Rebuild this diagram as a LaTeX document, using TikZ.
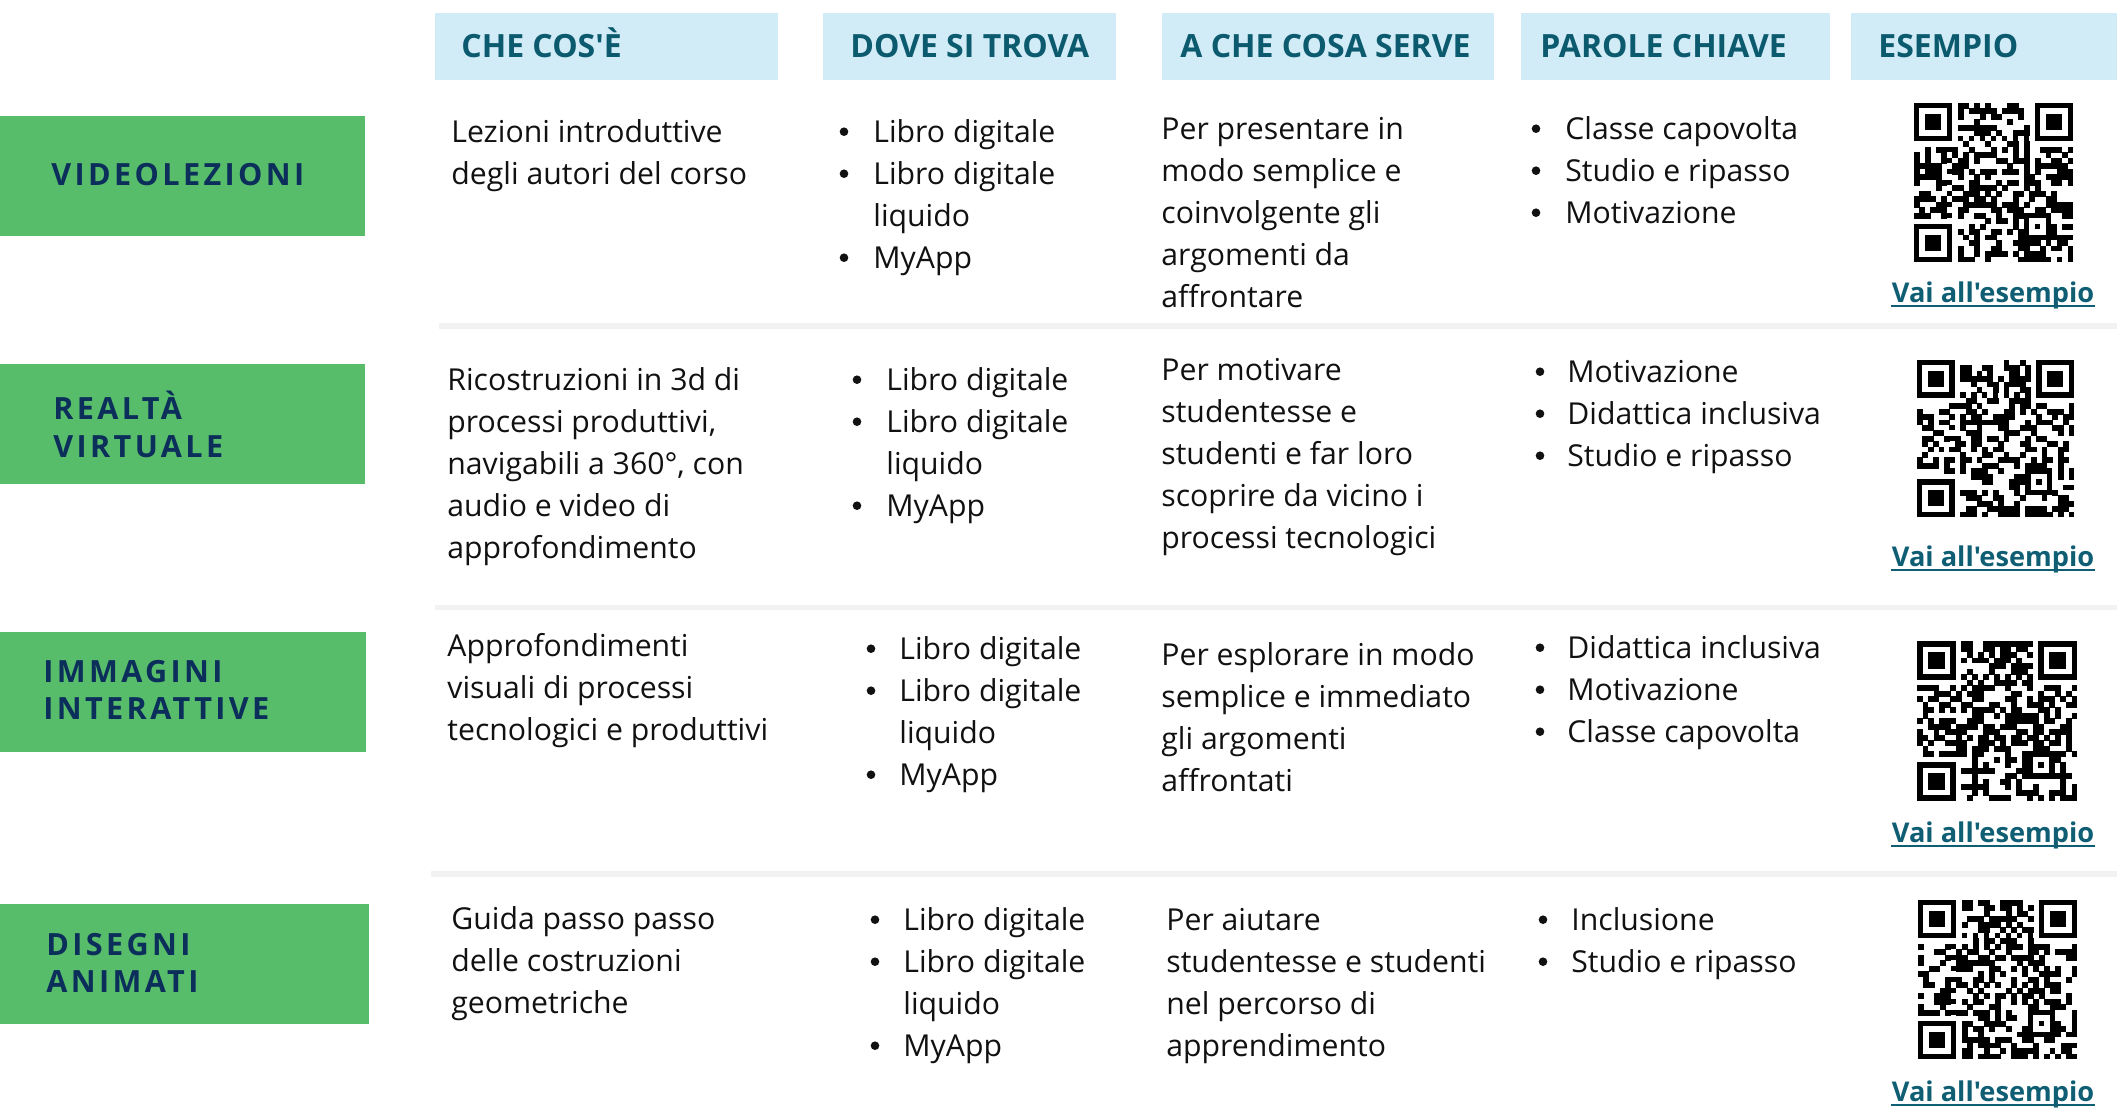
\documentclass[tikz,border=0pt]{standalone}
\usepackage{fontspec}
\setmainfont{Open Sans}[Ligatures=TeXOff]
\newfontfamily\trackfont{Open Sans}[LetterSpace=11,Ligatures=TeXOff]
\definecolor{hdrbg}{HTML}{D1EBF7}
\definecolor{hdrc}{HTML}{0B5A6E}
\definecolor{greenc}{HTML}{57BD6B}
\definecolor{navy}{HTML}{0C2E5A}
\definecolor{linkc}{HTML}{0F5E73}
\definecolor{bodyc}{HTML}{111111}
\definecolor{sepc}{HTML}{F2F2F2}
\newcommand\plaincol[4]{%
  \foreach \t [count=\i] in {#4}{\node[body] (#1-\i) at (#2,{#3+42*(\i-1)}) {\t};}}
\newcommand\bulcol[5]{%
  \foreach \f/\t [count=\i] in {#5}{%
    \node[body] (#1-\i) at (#3,{#4+42*(\i-1)}) {\t};
    \ifnum\f=1 \node[bul] (#1-b\i) at (#2,{#4+42*(\i-1)-10.3}) {};\fi
  }}
\newcommand\qrcode[4]{%
  \pgfmathsetseed{#4}%
  \pgfmathsetmacro\qm{#3/29}%
  \foreach \r in {0,...,28}{%
    \foreach \c in {0,...,28}{%
      \pgfmathtruncatemacro\qskip{or(or(and(\r<8,\c<8),and(\r<8,\c>20)),or(or(and(\r>20,\c<8),or(\r==6,\c==6)),and(and(\r>19,\r<25),and(\c>19,\c<25))))}%
      \ifnum\qskip=0
        \pgfmathtruncatemacro\qon{rnd+0.52}%
        \ifnum\qon=1 \fill[black] (#1+\c*\qm,#2+\r*\qm) rectangle ++(\qm+0.4,\qm+0.4);\fi
      \fi
    }}%
  \foreach \fx/\fy in {0/0,22/0,0/22}{%
    \fill[black] (#1+\fx*\qm,#2+\fy*\qm) rectangle ++(7*\qm,7*\qm);
    \fill[white] (#1+\fx*\qm+\qm,#2+\fy*\qm+\qm) rectangle ++(5*\qm,5*\qm);
    \fill[black] (#1+\fx*\qm+2*\qm,#2+\fy*\qm+2*\qm) rectangle ++(3*\qm,3*\qm);
  }%
  \foreach \k in {8,10,...,20}{%
    \fill[black] (#1+\k*\qm,#2+6*\qm) rectangle ++(\qm,\qm);
    \fill[black] (#1+6*\qm,#2+\k*\qm) rectangle ++(\qm,\qm);
  }%
  \fill[black] (#1+20*\qm,#2+20*\qm) rectangle ++(5*\qm,5*\qm);
  \fill[white] (#1+21*\qm,#2+21*\qm) rectangle ++(3*\qm,3*\qm);
  \fill[black] (#1+22*\qm,#2+22*\qm) rectangle ++(\qm,\qm);
}
\begin{document}
\begin{tikzpicture}[x=0.5pt,y=-0.5pt,
  body/.style={anchor=base west,inner sep=0pt,font=\fontsize{15.1}{18}\selectfont,text=bodyc},
  bul/.style={circle,fill=bodyc,inner sep=0pt,minimum size=4.3pt},
  hdr/.style={anchor=base west,inner sep=0pt,font=\fontsize{16}{19}\selectfont\bfseries,text=hdrc},
  gtxt/.style={anchor=base west,inner sep=0pt,font=\trackfont\fontsize{15.3}{18}\selectfont\bfseries,text=navy},
  lnk/.style={anchor=base,inner sep=0pt,font=\fontsize{13.6}{17}\selectfont\bfseries,text=linkc},
  uline/.style={linkc,line width=1.1pt}]
\useasboundingbox (0,0) rectangle (2117,1119);
\fill[white] (0,0) rectangle (2117,1119);
% headers
\fill[hdrbg] (435,13) rectangle (778,80);
\fill[hdrbg] (823,13) rectangle (1116,80);
\fill[hdrbg] (1162,13) rectangle (1494,80);
\fill[hdrbg] (1521,13) rectangle (1830,80);
\fill[hdrbg] (1851,13) rectangle (2117,80);
\node[hdr] (h1) at (461,57) {CHE COS'È};
\node[hdr] (h2) at (850,57) {DOVE SI TROVA};
\node[hdr] (h3) at (1180,57) {A CHE COSA SERVE};
\node[hdr] (h4) at (1540,57) {PAROLE CHIAVE};
\node[hdr] (h5) at (1878,57) {ESEMPIO};
% separators
\fill[sepc] (439,323) rectangle (2117,329);
\fill[sepc] (435,605) rectangle (2117,610);
\fill[sepc] (431,871) rectangle (2117,877);
% green boxes
\fill[greenc] (0,116) rectangle (365,236);
\fill[greenc] (0,364) rectangle (365,484);
\fill[greenc] (0,632) rectangle (366,752);
\fill[greenc] (0,904) rectangle (369,1024);
\node[gtxt] (g1) at (51,185) {VIDEOLEZIONI};
\node[gtxt] (g2a) at (53,419) {REALTÀ};
\node[gtxt] (g2b) at (53,457) {VIRTUALE};
\node[gtxt] (g3a) at (43,682) {IMMAGINI};
\node[gtxt] (g3b) at (43,719) {INTERATTIVE};
\node[gtxt] (g4a) at (46,955) {DISEGNI};
\node[gtxt] (g4b) at (46,992) {ANIMATI};
% row 1
\plaincol{a1}{451}{142}{Lezioni introduttive,degli autori del corso}
\bulcol{b1}{844}{873}{142}{1/Libro digitale,1/Libro digitale,0/liquido,1/MyApp}
\plaincol{c1}{1161}{139}{Per presentare in,modo semplice e,coinvolgente gli,argomenti da,affrontare}
\bulcol{d1}{1536}{1565}{139}{1/Classe capovolta,1/Studio e ripasso,1/Motivazione}
\qrcode{1914}{103}{159}{11}
\node[lnk] (l1) at (1993,302) {Vai all'esempio};
\draw[uline] ([yshift=-1.8pt]l1.base west) -- ([yshift=-1.8pt]l1.base east);
% row 2
\plaincol{a2}{447}{390}{Ricostruzioni in 3d di,{processi produttivi,},{navigabili a 360°, con},audio e video di,approfondimento}
\bulcol{b2}{857}{886}{390}{1/Libro digitale,1/Libro digitale,0/liquido,1/MyApp}
\plaincol{c2}{1161}{380}{Per motivare,studentesse e,studenti e far loro,scoprire da vicino i,processi tecnologici}
\bulcol{d2}{1540}{1567}{382}{1/Motivazione,1/Didattica inclusiva,1/Studio e ripasso}
\qrcode{1917}{360}{157}{22}
\node[lnk] (l2) at (1993,566) {Vai all'esempio};
\draw[uline] ([yshift=-1.8pt]l2.base west) -- ([yshift=-1.8pt]l2.base east);
% row 3
\plaincol{a3}{447}{656}{Approfondimenti,visuali di processi,tecnologici e produttivi}
\bulcol{b3}{871}{899}{659}{1/Libro digitale,1/Libro digitale,0/liquido,1/MyApp}
\plaincol{c3}{1161}{665}{Per esplorare in modo,semplice e immediato,gli argomenti,affrontati}
\bulcol{d3}{1540}{1567}{658}{1/Didattica inclusiva,1/Motivazione,1/Classe capovolta}
\qrcode{1917}{641}{160}{33}
\node[lnk] (l3) at (1993,842) {Vai all'esempio};
\draw[uline] ([yshift=-1.8pt]l3.base west) -- ([yshift=-1.8pt]l3.base east);
% row 4
\plaincol{a4}{451}{929}{Guida passo passo,delle costruzioni,geometriche}
\bulcol{b4}{875}{903}{930}{1/Libro digitale,1/Libro digitale,0/liquido,1/MyApp}
\plaincol{c4}{1166}{930}{Per aiutare,studentesse e studenti,nel percorso di,apprendimento}
\bulcol{d4}{1543}{1571}{930}{1/Inclusione,1/Studio e ripasso}
\qrcode{1918}{900}{159}{44}
\node[lnk] (l4) at (1993,1101) {Vai all'esempio};
\draw[uline] ([yshift=-1.8pt]l4.base west) -- ([yshift=-1.8pt]l4.base east);
\end{tikzpicture}
\end{document}
